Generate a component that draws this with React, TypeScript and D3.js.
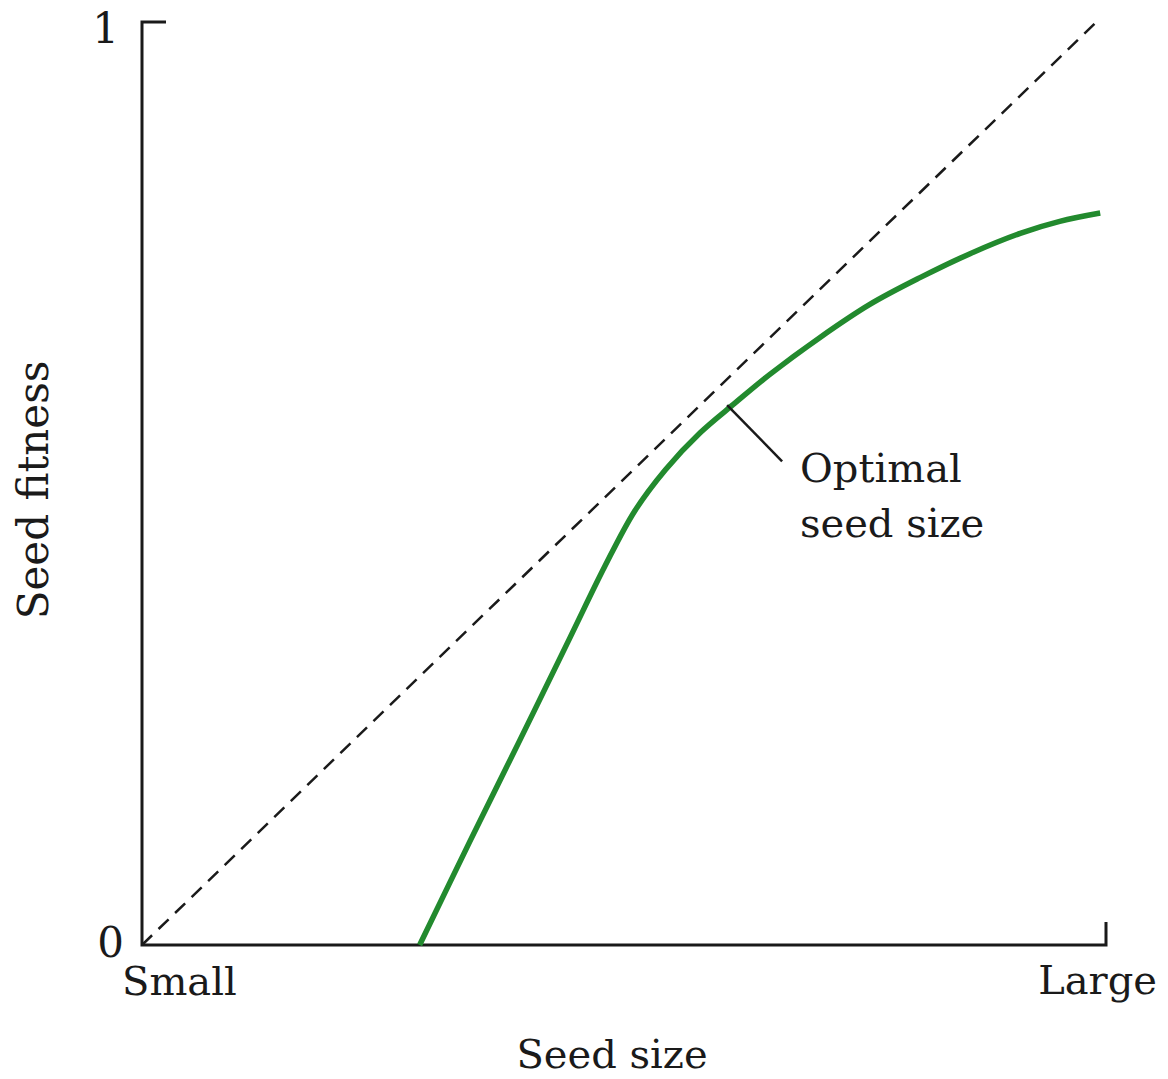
import * as d3 from "d3";

// seed size (0 = small, 1 = large) vs seed fitness (0..1)
const curveX = [0.288, 0.34, 0.392, 0.444, 0.48, 0.511, 0.543, 0.579, 0.615, 0.651, 0.703, 0.755, 0.807, 0.859, 0.911, 0.952, 0.994];
const curveY = [0, 0.112, 0.222, 0.333, 0.41, 0.47, 0.515, 0.555, 0.587, 0.618, 0.658, 0.694, 0.723, 0.749, 0.771, 0.784, 0.793];
const diagX = [0, 0.988];
const diagY = [0, 0.998];
const calloutX = [0.607, 0.664];
const calloutY = [0.585, 0.524];

const W = 1168;
const H = 1079;
const FONT = "'DejaVu Serif', serif";
const INK = "#1a1a1a";

export default function App() {
  const x = d3.scaleLinear().domain([0, 1]).range([142, 1106]);
  const y = d3.scaleLinear().domain([0, 1]).range([945, 22]);

  const line = d3
    .line<[number, number]>()
    .x((d) => x(d[0]))
    .y((d) => y(d[1]));
  const smooth = d3
    .line<[number, number]>()
    .x((d) => x(d[0]))
    .y((d) => y(d[1]))
    .curve(d3.curveCatmullRom.alpha(0.5));

  const fitness = curveX.map((v, i) => [v, curveY[i]] as [number, number]);
  const diag = diagX.map((v, i) => [v, diagY[i]] as [number, number]);
  const callout = calloutX.map((v, i) => [v, calloutY[i]] as [number, number]);

  return (
    <svg
      width={W}
      height={H}
      style={{ position: "absolute", left: 0, top: 0, background: "#fff" }}
      fontFamily={FONT}
    >
      {/* axes */}
      <path
        d={`M${x(0) + 24},${y(1)}H${x(0)}V${y(0)}H${x(1)}V${y(0) - 23}`}
        fill="none"
        stroke={INK}
        strokeWidth={3}
      />
      {/* diagonal reference */}
      <path d={line(diag) ?? ""} fill="none" stroke={INK} strokeWidth={2.5} strokeDasharray="14 9" />
      {/* fitness curve */}
      <path d={smooth(fitness) ?? ""} fill="none" stroke="#228a2e" strokeWidth={5.5} />
      {/* callout */}
      <path d={line(callout) ?? ""} fill="none" stroke={INK} strokeWidth={2.5} />
      <text x={800} y={482} fontSize={40} fill={INK}>Optimal</text>
      <text x={800} y={537} fontSize={40} fill={INK}>seed size</text>

      {/* tick labels */}
      <text x={119} y={43} fontSize={42} textAnchor="end" fill={INK}>1</text>
      <text x={124} y={957} fontSize={42} textAnchor="end" fill={INK}>0</text>
      <text x={122} y={995} fontSize={40} fill={INK}>Small</text>
      <text x={1157} y={994} fontSize={40} textAnchor="end" fill={INK}>Large</text>

      {/* axis titles */}
      <text x={612} y={1068} fontSize={40} textAnchor="middle" fill={INK}>Seed size</text>
      <text
        transform="translate(48,490) rotate(-90)"
        fontSize={42}
        textAnchor="middle"
        fill={INK}
      >
        Seed fitness
      </text>
    </svg>
  );
}
